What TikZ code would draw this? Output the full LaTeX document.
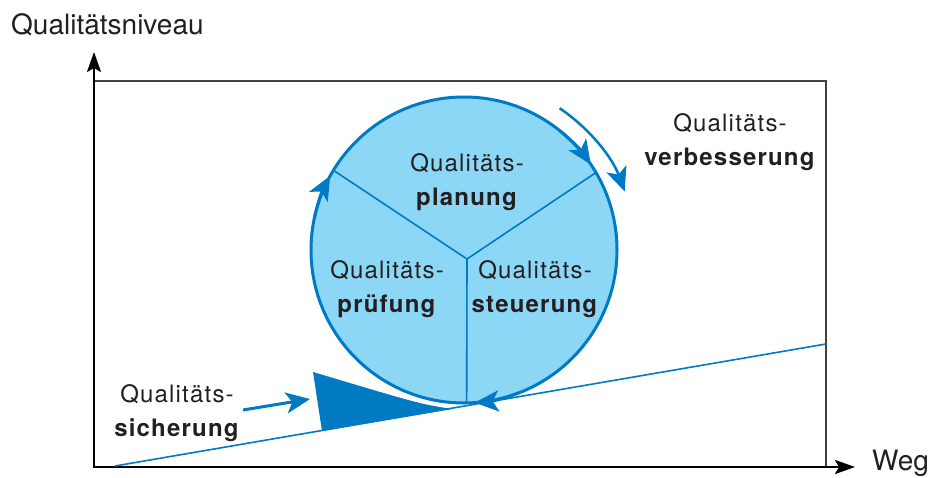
\documentclass[tikz,border=0pt]{standalone}
\usepackage{fontspec}
\setmainfont{TeX Gyre Heros}
\newfontfamily\lblfont{TeX Gyre Heros}[LetterSpace=5]
\usetikzlibrary{calc, arrows.meta}
\definecolor{qblue}{RGB}{0,122,195}
\definecolor{qlight}{RGB}{141,215,246}
\definecolor{qtext}{RGB}{35,31,32}

\begin{document}
\begin{tikzpicture}[x=1pt,y=1pt,
    lbl/.style={align=center, text=qtext, inner sep=0pt, font=\lblfont\fontsize{24}{34}\selectfont},
    axlbl/.style={text=qtext, inner sep=0pt, font=\fontsize{28}{34}\selectfont},
    circtip/.style={-{Stealth[length=24pt,width=21pt,inset=6pt]}},
    axtip/.style={-{Stealth[length=20pt,width=14pt,inset=4pt]}}]
    \useasboundingbox (0,0) rectangle (929,477);

    % frame and axes
    \coordinate (o) at (94,10);
    \coordinate (ytop) at (94,425);
    \coordinate (xend) at (855,10);
    \draw[line width=1.2pt, black!75] (o) rectangle (826,396);
    \draw[line width=2.5pt, axtip] (o) -- (ytop);
    \draw[line width=2.5pt, axtip] (93,10) -- (xend);
    \node[axlbl, anchor=base west] (niveau) at (11,442) {Qualitätsniveau};
    \node[axlbl, anchor=base west] (weg) at (872,7) {Weg};

    % slope and wedge
    \coordinate (s0) at (115,11);
    \coordinate (s1) at (826,133);
    \draw[qblue, line width=1.6pt] (s0) -- (s1);
    \fill[qblue] (313,105) -- (322,46) -- (452,68) .. controls (420,73) .. cycle;

    % circle with three sectors
    \coordinate (m) at (464,227);
    \coordinate (j) at (467,218);
    \fill[qlight] (m) circle (153);
    \draw[qblue, line width=1.6pt] (j) -- ($(m)+(148.6:153)$);
    \draw[qblue, line width=1.6pt] (j) -- ($(m)+(30.4:153)$);
    \draw[qblue, line width=1.6pt] (j) -- ($(m)+(-89:153)$);
    \draw[qblue, line width=3pt] (m) circle (153);

    % turning direction
    \draw[qblue, line width=3pt, circtip] ($(m)+(168:153)$) arc[start angle=168, end angle=151, radius=153];
    \draw[qblue, line width=3pt, circtip] ($(m)+(51:153)$) arc[start angle=51, end angle=34, radius=153];
    \draw[qblue, line width=3pt, circtip] ($(m)+(-69:153)$) arc[start angle=-69, end angle=-86, radius=153];
    \draw[qblue, line width=2.5pt, circtip] ($(m)+(56:171)$) arc[start angle=56, end angle=20, radius=171];

    % labels
    \node[lbl] (plan) at (467,295) {Qualitäts-\\\textbf{planung}};
    \node[lbl] (pruef) at (387,188) {Qualitäts-\\\textbf{prüfung}};
    \node[lbl] (steu) at (535,188) {Qualitäts-\\\textbf{steuerung}};
    \node[lbl] (verb) at (730,335) {Qualitäts-\\\textbf{verbesserung}};
    \node[lbl] (sich) at (177,64) {Qualitäts-\\\textbf{sicherung}};

    \coordinate (push) at (310,78);
    \draw[qblue, line width=3pt, circtip] (243,67) -- (push);
\end{tikzpicture}
\end{document}
